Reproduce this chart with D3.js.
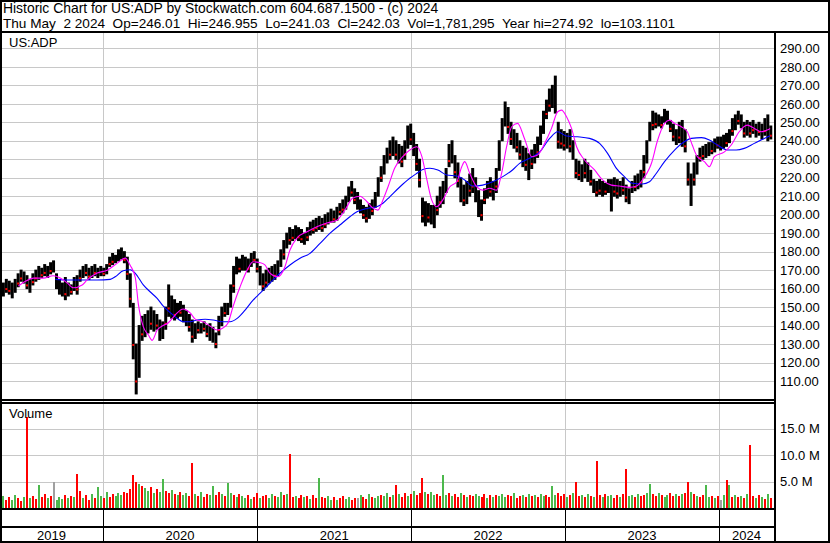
<!DOCTYPE html>
<html><head><meta charset="utf-8">
<script src="https://cdn.jsdelivr.net/npm/d3@7"></script>
<style>html,body{margin:0;padding:0;background:#fff;} svg{display:block;font-family:"Liberation Sans",Arial,sans-serif;}</style>
</head><body><svg id="c" width="830" height="543"></svg>
<script>
// ---------- DATA ----------
const headerLine1 = "Historic Chart for US:ADP by Stockwatch.com 604.687.1500 - (c) 2024";
const headerLine2 = "Thu May  2 2024  Op=246.01  Hi=246.955  Lo=241.03  Cl=242.03  Vol=1,781,295  Year hi=274.92  lo=103.1101";
const symbolLabel = "US:ADP";
const volumeLabel = "Volume";
const firstWeek = "2019-05-03";           // weekly bars, one per week
const yearLabels = ["2019","2020","2021","2022","2023","2024"];
const priceTicks = [110,120,130,140,150,160,170,180,190,200,210,220,230,240,250,260,270,280,290];
const volTicks = [5,10,15];               // millions

const weekHigh = [
164,163,165,164,163,165,168,170,169,167,
165,168,170,172,171,173,172,174,175,168,
165,163,166,163,162,166,167,170,172,173,
171,172,173,171,172,171,173,177,179,178,
181,182,180,177,168,152,130,140,145,146,
148,150,148,146,143,142,150,162,156,154,
152,153,151,148,146,143,141,142,141,142,
140,141,139,136,145,150,152,152,162,172,
177,176,178,177,176,179,180,176,172,168,
170,171,172,173,175,181,186,190,193,192,
194,193,192,190,193,196,197,198,199,198,
200,201,203,202,204,206,208,210,215,218,
214,212,208,205,204,206,208,212,220,226,
232,236,240,242,240,238,237,240,248,249,
244,238,230,209,207,206,205,205,210,215,
218,225,238,240,232,228,220,216,218,222,
225,220,213,208,214,218,220,218,225,240,
252,261,258,250,246,244,240,237,236,233,
235,238,242,248,256,262,268,270,275,250,
246,245,244,246,240,230,229,227,230,228,
224,219,218,219,218,217,219,219,220,219,
218,220,216,214,218,221,222,224,232,240,
250,256,255,254,253,257,256,251,249,246,
250,251,246,228,222,228,232,236,237,238,
239,239,241,242,242,243,244,246,252,254,
256,254,250,251,250,251,249,250,249,252,
254,248];
const weekLow = [
157,156,158,157,155,158,161,164,163,160,
158,162,164,165,166,167,166,168,169,160,
157,156,154,156,157,159,157,164,166,167,
165,166,167,166,167,167,168,172,173,174,
175,176,174,165,150,122,103,112,132,134,
136,138,137,138,132,133,138,145,144,143,
144,145,142,140,137,131,133,136,136,137,
134,132,131,128,135,140,145,146,150,158,
168,169,170,170,169,172,174,169,162,159,
161,163,164,165,167,172,176,182,184,186,
187,186,185,184,186,189,190,191,192,191,
193,195,196,196,197,200,201,203,207,210,
206,203,201,198,196,198,200,204,210,218,
222,228,230,232,230,228,226,230,236,238,
232,224,215,196,194,196,195,193,200,204,
206,212,226,228,220,215,207,205,206,210,
212,207,199,197,206,209,210,208,212,224,
240,248,244,238,236,234,230,226,224,219,
225,228,231,238,244,252,256,258,255,236,
236,235,236,234,230,220,219,218,220,218,
216,212,210,211,210,211,212,202,210,209,
210,211,207,206,212,213,214,215,220,228,
240,246,247,248,247,250,249,245,240,238,
239,237,234,216,205,216,222,229,230,231,
232,233,234,236,235,236,237,239,243,246,
249,247,242,243,242,244,242,243,241,243,
240,241];
// weekly volume, millions
const weekVol = [
1.8,2.2,1.5,2.0,1.6,2.4,1.9,1.4,2.1,17.2,
1.9,2.3,1.7,4.3,2.0,2.6,1.8,2.2,4.9,1.6,
2.1,1.7,2.5,1.9,2.3,2.0,6.4,3.2,1.8,2.4,
1.6,2.7,1.9,4.0,2.2,1.8,3.0,2.1,2.6,2.3,
2.8,2.4,3.1,2.9,3.6,6.2,5.0,4.5,4.2,3.8,
3.3,3.9,2.8,3.5,3.0,5.5,3.2,2.9,3.4,2.7,
2.5,3.1,2.4,2.8,2.2,8.5,2.6,2.3,3.0,2.1,
2.7,2.4,4.2,2.5,3.1,2.6,2.2,4.7,2.9,2.4,
2.0,2.6,2.2,1.9,2.4,1.7,2.1,2.8,1.8,2.3,
2.5,1.9,2.7,2.2,2.0,3.0,2.4,2.6,10.2,2.1,
2.3,1.8,2.5,2.0,2.2,1.7,2.4,1.9,5.6,2.1,
1.8,2.2,1.6,2.0,1.5,1.9,2.3,1.7,2.1,1.6,
1.9,1.8,2.4,2.0,1.7,2.6,2.1,1.8,2.3,2.5,
2.2,2.8,2.0,2.4,4.4,2.6,2.1,2.9,2.3,2.7,
3.2,2.5,2.8,5.6,3.0,2.6,3.1,2.4,2.7,2.2,
6.2,2.5,2.9,2.3,2.6,2.1,2.8,2.4,2.0,2.5,
2.2,2.7,2.3,2.0,2.6,1.9,2.4,2.1,2.5,2.3,
2.6,2.0,2.4,2.2,2.8,1.9,2.3,2.5,2.1,2.6,
2.2,2.4,2.0,2.7,2.3,2.5,2.1,4.2,2.4,2.8,
2.3,2.6,2.1,2.4,2.9,4.9,2.2,2.5,2.0,2.6,
2.3,2.1,8.9,2.4,2.0,2.7,2.2,2.5,1.9,2.4,
2.1,2.6,7.3,2.2,2.5,2.0,2.7,2.3,2.4,2.8,
4.5,2.6,2.2,2.9,2.4,2.1,2.5,2.8,2.3,2.6,
2.2,2.7,2.9,4.9,3.1,2.6,2.3,2.1,2.5,4.4,
2.0,2.3,1.8,2.2,1.6,2.4,5.3,4.4,2.1,2.5,
2.0,2.3,1.9,2.6,11.9,2.2,1.8,2.4,2.0,1.7,
2.6,1.9];
// week direction: u = up, d = down, n = unchanged
const weekDir =
"dudduuddud"+"udduddudnu"+"uudududdud"+"duduududdu"+"uudddddudu"+
"ududuuddud"+"uduuddudud"+"duudduduud"+"uduududdud"+"duuduududd"+
"uddududdud"+"duududduud"+"dnudduduud"+"uudududdud"+"uddduduudd"+
"uududdudud"+"duuddududu"+"uudduddudu"+"duduudduud"+"ddududdudu"+
"dudduduudd"+"udduududdu"+"udduduuddu"+"duddududdu"+"ududnududu"+
"dududdudud"+"ud";

// short moving average (magenta): week position, value
const fastWeek = [6.1,8.5,11.2,14.5,17.9,20.3,22.7,24.7,27.7,29.4,32.8,36.2,39.6,42.3,44,45.7,46.7,48.4,50.1,51.4,53.1,54.8,56.8,59.2,61.9,64.3,66,68.7,71,73.4,75.4,77.1,78.8,81.2,83.6,85.6,88,89.6,91.3,94,96.4,98.1,100.5,103.9,107.2,110.6,114,116.7,119.4,121.8,124.2,126.2,127.9,129.6,131.3,133.6,136.3,138.7,141.1,142.8,144.5,146.1,147.8,149.9,152.2,154.6,156.3,157.3,159,161.4,163.4,165.8,168.1,169.8,171.5,173.2,175.2,177.6,180,182,184.4,186.7,188.8,190.1,191.8,193.5,195.2,197.9,201.3,204,207,209.7,213.1,215.5,217.5,219.9,220.6,222.6,225,226.7,228.4,230.7,232.7,234.4,236.1,238.5,240.2,241.9,245.3,247.6,250.3,253,255.4,257.8,259.8,260.8];
const fastVal = [161.4,164,165.7,165.7,167,165.7,163,160.5,162,164.7,168.4,170,173.8,176.5,172.5,166,152,139.4,135,132,137.6,139.8,141.4,145.7,149,146.8,143.5,142,139.8,137.6,138.7,141.4,150.2,161,170,174.5,174,172.8,168.4,166.4,171.8,180.9,187.4,190.8,193.5,195.5,197,202.5,209,210,207,203.6,202.5,208,215,225.3,231.4,235,236.8,231.4,218.8,208,204.3,208,215,217.8,226,228.7,222.4,215,213.3,214.3,213.3,222.4,236.8,247.6,249.4,241,231.4,232.3,238.6,246.7,255.7,256.6,253,246.7,236.8,229.6,224.2,218.8,216,215.5,214.8,215.5,218.8,225.1,228,240,249.4,251.2,249.4,247.6,244.9,237.7,231.4,228.7,226,231.4,234,237.7,244.9,248.5,246.7,244.9,245.8,246.7];
// long moving average (blue)
const slowWeek = [18.6,22.7,27.7,32.8,37.2,38.9,41.6,44,45.7,48.4,50.7,53.1,55.1,57.5,59.9,61.9,64.3,66.6,69.4,72.1,75.1,77.8,80.2,82.9,85.6,88,91.3,94.7,98.1,101.5,104.9,108.3,111.6,115,118.4,120.8,124.2,127.5,129.6,131.9,135.3,138.7,141.1,143.1,145.5,148.2,151.2,154.6,157.3,160,163.4,166.8,170.2,173.5,175.9,179.3,182.7,186.1,188.8,191.8,195.5,199.6,203,205.7,208.7,211.4,214.1,217.5,219.9,221.6,225,228.4,231.7,234.1,237.5,240.2,242.9,246.3,249.3,252,255.4,258.8,260.8];
const slowVal = [165,164.7,164.7,164.7,165,166.4,169.7,170.2,168.3,162,158.3,154.7,150.6,147,143.9,142.1,142.1,143,143.4,143,142.1,142.1,143.9,148.4,153.8,157.5,162.9,168.3,172.8,176.4,179.1,184.5,189.9,194.4,198.9,201.6,203.4,204.3,206.2,209.7,215,219.7,222.4,224.5,225.1,224.2,221.5,220.9,218.8,215.5,216,217.8,220.6,224.2,227.8,230.5,234,241.3,244.9,242.6,242.2,241.3,238.6,233.2,225.1,220.6,217,216.6,217.8,221,228.7,235,239.5,241.3,241.7,240.4,237.7,235,235,235.9,238.6,241.3,242.7];

// ---------- LAYOUT ----------
const W = 830, H = 543;
const axisX = 774;
const priceTop = 32, priceBot = 400;
const volTop = 403, volBot = 508.5;
const blankBot = 527;

const parse = d3.timeParse("%Y-%m-%d");
const start = parse(firstWeek);
const weekDate = w => d3.timeHour.offset(start, Math.round(w * 7 * 24));

const x = d3.scaleTime().domain([parse("2019-05-02"), parse("2024-05-13")]).range([0, 775]);
const y = d3.scaleLinear().domain([110, 290]).range([381, 48.4]);
const yv = d3.scaleLinear().domain([0, 15]).range([508, 428.5]);

const svg = d3.select("#c");
svg.append("rect").attr("width", W).attr("height", H).attr("fill", "#fff");

const defs = svg.append("defs");
defs.append("clipPath").attr("id", "pclip").append("rect")
  .attr("x", 0).attr("y", priceTop + 1).attr("width", axisX).attr("height", priceBot - priceTop - 1);
defs.append("clipPath").attr("id", "vclip").append("rect")
  .attr("x", 0).attr("y", volTop + 1).attr("width", axisX).attr("height", volBot - volTop - 1);

const grid = "#c8c8c8";
const yearStarts = d3.timeYear.range(parse("2020-01-01"), parse("2024-02-01"));
const yearEdges = [0, ...yearStarts.map(d => x(d)), axisX];

// grid lines
const g = svg.append("g").attr("shape-rendering", "crispEdges");
g.selectAll(".hg").data(priceTicks).join("line")
  .attr("x1", 0).attr("x2", axisX).attr("y1", d => Math.round(y(d)) + 0.5).attr("y2", d => Math.round(y(d)) + 0.5)
  .attr("stroke", grid);
g.selectAll(".vg").data(volTicks).join("line")
  .attr("x1", 0).attr("x2", axisX).attr("y1", d => Math.round(yv(d)) + 0.5).attr("y2", d => Math.round(yv(d)) + 0.5)
  .attr("stroke", grid);
g.selectAll(".yg").data(yearStarts).join("line")
  .attr("x1", d => Math.round(x(d)) + 0.5).attr("x2", d => Math.round(x(d)) + 0.5)
  .attr("y1", priceTop).attr("y2", volBot).attr("stroke", grid);

// price bars
const bars = weekHigh.map((h, i) => ({ d: weekDate(i), hi: h, lo: weekLow[i], dir: weekDir[i], vol: weekVol[i] }));
const pg = svg.append("g").attr("clip-path", "url(#pclip)");
pg.selectAll(".bar").data(bars).join("line")
  .attr("x1", d => x(d.d)).attr("x2", d => x(d.d))
  .attr("y1", d => y(d.lo) + 0.5).attr("y2", d => y(d.hi) - 0.5)
  .attr("stroke", "#000").attr("stroke-width", 3);
pg.selectAll(".dot").data(bars.filter(d => d.dir === "d")).join("rect")
  .attr("x", d => x(d.d) - 1).attr("y", d => y(d.lo + (d.hi - d.lo) * 0.25) - 1)
  .attr("width", 2).attr("height", 2).attr("fill", "#ff0000");

// moving averages
const lineGen = d3.line().x(d => x(weekDate(d[0]))).y(d => y(d[1])).curve(d3.curveMonotoneX);
pg.append("path").datum(slowWeek.map((w, i) => [w, slowVal[i]]))
  .attr("d", lineGen).attr("fill", "none").attr("stroke", "#0000ff").attr("stroke-width", 1.1);
pg.append("path").datum(fastWeek.map((w, i) => [w, fastVal[i]]))
  .attr("d", lineGen).attr("fill", "none").attr("stroke", "#ff00ff").attr("stroke-width", 1.1);

// volume bars
const volColor = { u: "#4cb84c", d: "#ff0000", n: "#a0a0a0" };
svg.append("g").attr("clip-path", "url(#vclip)").attr("shape-rendering", "crispEdges")
  .selectAll("rect").data(bars).join("rect")
  .attr("x", d => Math.round(x(d.d)) - 1).attr("width", 2)
  .attr("y", d => yv(d.vol)).attr("height", d => yv(0) - yv(d.vol))
  .attr("fill", d => volColor[d.dir]);

// axes
const fnt = 13;
const pAxis = svg.append("g").attr("transform", `translate(${axisX},0)`)
  .call(d3.axisRight(y).tickValues(priceTicks).tickFormat(d3.format(".2f")).tickSize(0).tickPadding(6));
const vAxis = svg.append("g").attr("transform", `translate(${axisX},0)`)
  .call(d3.axisRight(yv).tickValues(volTicks).tickFormat(v => d3.format(".1f")(v) + " M").tickSize(0).tickPadding(6));
[pAxis, vAxis].forEach(a => {
  a.select(".domain").remove();
  a.selectAll("text").attr("font-size", fnt).attr("fill", "#000").attr("font-family", '"Liberation Sans",Arial,sans-serif');
});

// frame lines
const fr = svg.append("g").attr("stroke", "#000").attr("shape-rendering", "crispEdges");
fr.append("line").attr("x1", 0).attr("x2", W).attr("y1", priceTop).attr("y2", priceTop).attr("stroke-width", 2);
fr.append("line").attr("x1", 0).attr("x2", axisX).attr("y1", priceBot).attr("y2", priceBot).attr("stroke-width", 1.5);
fr.append("line").attr("x1", 0).attr("x2", axisX).attr("y1", volTop).attr("y2", volTop).attr("stroke-width", 1.5);
fr.append("line").attr("x1", 0).attr("x2", axisX).attr("y1", volBot + 0.5).attr("y2", volBot + 0.5).attr("stroke-width", 2);
fr.append("line").attr("x1", 0).attr("x2", axisX).attr("y1", blankBot).attr("y2", blankBot).attr("stroke-width", 2);
fr.append("line").attr("x1", axisX + 0.5).attr("x2", axisX + 0.5).attr("y1", priceTop).attr("y2", H).attr("stroke-width", 2);
fr.selectAll(".ys").data(yearStarts).join("line")
  .attr("x1", d => Math.round(x(d)) + 0.5).attr("x2", d => Math.round(x(d)) + 0.5)
  .attr("y1", volBot + 1).attr("y2", H).attr("stroke-width", 1);
svg.append("rect").attr("x", 1).attr("y", 1).attr("width", W - 2).attr("height", H - 2)
  .attr("fill", "none").attr("stroke", "#000").attr("stroke-width", 2).attr("shape-rendering", "crispEdges");

// year labels
svg.selectAll(".yl").data(yearLabels).join("text")
  .attr("x", (d, i) => (yearEdges[i] + yearEdges[i + 1]) / 2).attr("y", 540)
  .attr("text-anchor", "middle").attr("font-size", fnt).attr("fill", "#000").text(d => d);

// text labels
const txt = (s, xx, yy, fs) => svg.append("text").attr("x", xx).attr("y", yy).attr("font-size", fs)
  .attr("fill", "#000").style("white-space", "pre").text(s);
txt(headerLine1, 3, 13, 13.9);
txt(headerLine2, 3, 28, 13.6);
txt(symbolLabel, 9, 47, fnt);
txt(volumeLabel, 9, 418, fnt);
</script></body></html>
